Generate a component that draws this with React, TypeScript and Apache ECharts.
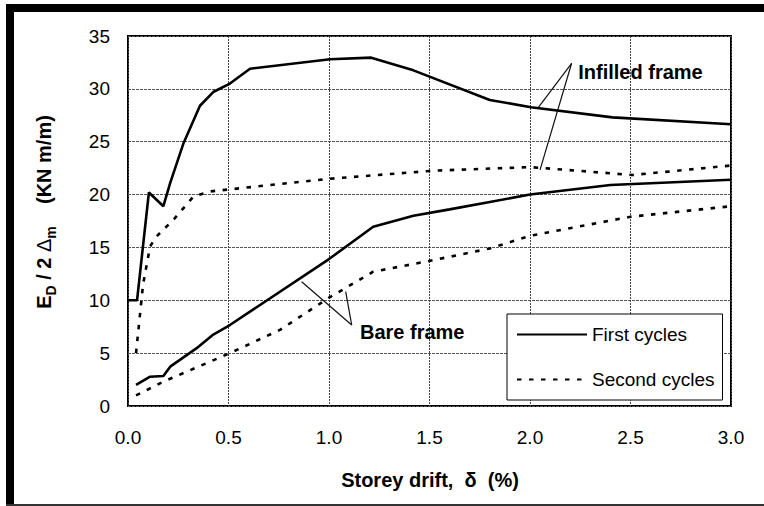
import React, { useEffect, useRef } from "react";
import * as echarts from "echarts";

const FONT = '"Liberation Sans", Arial, Helvetica, sans-serif';

// Storey drift (%) vs E_D / 2Δm (KN m/m)
const infilledFirst: [number, number][] = [
  [0, 10], [0.045, 10], [0.104, 20.2], [0.176, 18.9], [0.21, 21.1], [0.275, 24.8],
  [0.358, 28.4], [0.424, 29.7], [0.507, 30.5], [0.607, 31.9], [1.005, 32.8],
  [1.21, 32.95], [1.42, 31.75], [1.8, 28.95], [2.005, 28.26], [2.41, 27.3], [3.0, 26.65],
];
const infilledSecond: [number, number][] = [
  [0.04, 5], [0.075, 11.5], [0.11, 15.1], [0.14, 16.0], [0.23, 17.7], [0.325, 19.8],
  [0.41, 20.3], [1.005, 21.5], [1.52, 22.26], [2.0, 22.6], [2.51, 21.85], [3.0, 22.75],
];
const bareFirst: [number, number][] = [
  [0.04, 2.0], [0.11, 2.77], [0.176, 2.84], [0.21, 3.72], [0.34, 5.45], [0.42, 6.7],
  [0.507, 7.66], [1.0, 13.9], [1.22, 16.96], [1.42, 18.0], [1.6, 18.6], [1.8, 19.3],
  [2.0, 20.0], [2.4, 20.9], [3.0, 21.4],
];
const bareSecond: [number, number][] = [
  [0.04, 1.0], [0.176, 2.3], [0.507, 5.0], [0.756, 7.2], [1.005, 10.3], [1.22, 12.7],
  [1.52, 13.8], [1.8, 14.9], [2.0, 16.1], [2.5, 17.9], [3.0, 18.9],
];

const legendNames = ["First cycles", "Second cycles"];
const xTicks = { min: 0, max: 3, interval: 0.5 };
const yTicks = { min: 0, max: 35, interval: 5 };

// annotation anchors in data coordinates
const annotations = [
  { text: "Infilled frame", at: [2.24, 31.6], from: [2.207, 32.42], to: [[2.04, 28.2], [2.05, 22.33]] },
  { text: "Bare frame", at: [1.154, 7.0], from: [1.113, 7.66], to: [[0.864, 11.76], [1.083, 10.81]] },
];

export default function App() {
  const ref = useRef<HTMLDivElement>(null);
  useEffect(() => {
    if (!ref.current) return;
    const chart = echarts.init(ref.current, null, { renderer: "svg" });
    const solid = { color: "#000", width: 2.6, type: "solid" as const };
    const dashed = { color: "#000", width: 2.6, type: [4.5, 7.5] as any };
    const mk = (name: string, data: [number, number][], ls: any) => ({
      type: "line",
      name,
      data,
      symbol: "none",
      color: "#000",
      lineStyle: ls,
      z: 3,
    });
    chart.setOption({
      animation: false,
      backgroundColor: "#fff",
      textStyle: { fontFamily: FONT },
      grid: { left: 128, top: 36, right: 33, bottom: 100, show: true, borderColor: "#000", borderWidth: 2, backgroundColor: "transparent" },
      xAxis: {
        type: "value",
        ...xTicks,
        axisLine: { show: false },
        axisTick: { show: false },
        axisLabel: { margin: 22, fontSize: 19, color: "#000", fontFamily: FONT, formatter: (v: number) => v.toFixed(1) },
        splitLine: { show: true, lineStyle: { color: "#444", width: 1, type: [2, 1] } },
      },
      yAxis: {
        type: "value",
        ...yTicks,
        axisLine: { show: false },
        axisTick: { show: false },
        axisLabel: { margin: 18, fontSize: 19, color: "#000", fontFamily: FONT },
        splitLine: { show: true, lineStyle: { color: "#555", width: 1, type: [3, 1] } },
      },
      legend: {
        data: legendNames,
        orient: "vertical",
        left: 507,
        top: 314,
        padding: [11, 8, 11, 9],
        itemWidth: 70,
        itemHeight: 16,
        itemGap: 26,
        borderColor: "#000",
        borderWidth: 1,
        backgroundColor: "#fff",
        itemStyle: { opacity: 0 },
        textStyle: { fontSize: 19, color: "#000", fontFamily: FONT },
        selectedMode: false,
      },
      series: [
        mk(legendNames[0], infilledFirst, solid),
        mk(legendNames[1], infilledSecond, dashed),
        mk(legendNames[0], bareFirst, solid),
        mk(legendNames[1], bareSecond, dashed),
      ],
    });

    const toPx = (p: number[]) => chart.convertToPixel({ gridIndex: 0 }, p) as number[];
    const graphics: any[] = [
      // page frame
      { type: "rect", shape: { x: 6, y: 4, width: 758, height: 8 }, style: { fill: "#000" }, silent: true },
      { type: "rect", shape: { x: 6, y: 4, width: 8, height: 502 }, style: { fill: "#000" }, silent: true },
      { type: "rect", shape: { x: 6, y: 504, width: 758, height: 2 }, style: { fill: "#333" }, silent: true },
      // axis names
      {
        type: "text",
        x: 430,
        y: 480,
        style: { text: "Storey drift,  \u03b4  (%)", fontSize: 20, fontWeight: "bold", fontFamily: FONT, fill: "#000", align: "center", verticalAlign: "middle" },
      },
      {
        type: "text",
        x: 44,
        y: 212,
        rotation: Math.PI / 2,
        style: {
          text: "{b|E}{s|D}{b| / 2 }{d|\u0394}{s|m}{b|    (KN m/m)}",
          align: "center",
          verticalAlign: "middle",
          fill: "#000",
          fontFamily: FONT,
          rich: {
            b: { fontSize: 20, fontWeight: "bold", fontFamily: FONT, lineHeight: 28, verticalAlign: "middle", fill: "#000" },
            d: { fontSize: 20, fontFamily: FONT, lineHeight: 28, verticalAlign: "middle", fill: "#000" },
            s: { fontSize: 14, fontWeight: "bold", fontFamily: FONT, lineHeight: 28, verticalAlign: "bottom", fill: "#000" },
          },
        },
      },
    ];
    annotations.forEach((a) => {
      const f = toPx(a.from);
      a.to.forEach((t) => {
        const e = toPx(t);
        graphics.push({ type: "line", shape: { x1: f[0], y1: f[1], x2: e[0], y2: e[1] }, style: { stroke: "#111", lineWidth: 1.2 }, z: 10 });
      });
      const p = toPx(a.at);
      graphics.push({
        type: "text",
        x: p[0],
        y: p[1],
        z: 10,
        style: { text: a.text, fontSize: 20, fontWeight: "bold", fontFamily: FONT, fill: "#000", align: "left", verticalAlign: "middle" },
      });
    });
    chart.setOption({ graphic: graphics });
    return () => chart.dispose();
  }, []);
  return <div ref={ref} style={{ position: "fixed", left: 0, top: 0, width: 764, height: 506 }} />;
}
